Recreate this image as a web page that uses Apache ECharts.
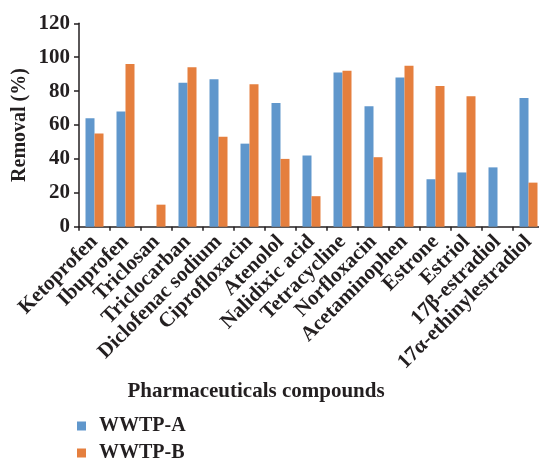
<!DOCTYPE html>
<html>
<head>
<meta charset="utf-8">
<script src="https://cdn.jsdelivr.net/npm/echarts@6/dist/echarts.min.js"></script>
<style>
html,body{margin:0;padding:0;overflow:hidden;background:#fff;}
#c{width:546px;height:460px;}
</style>
</head>
<body>
<div id="c"></div>
<script>
const categories = ["Ketoprofen","Ibuprofen","Triclosan","Triclocarban","Diclofenac sodium","Ciprofloxacin","Atenolol","Nalidixic acid","Tetracycline","Norfloxacin","Acetaminophen","Estrone","Estriol","17β-estradiol","17α-ethinylestradiol"];
const wwtpA = [64,68,0,85,87,49,73,42,91,71,88,28,32,35,76];
const wwtpB = [55,96,13,94,53,84,40,18,92,41,95,83,77,0,26];
const yTicks = {min:0,max:120,interval:20};

const font = "'Liberation Serif', 'DejaVu Serif', serif";
const txt = '#231f20';
const legendText = {fontFamily:font,fontWeight:'bold',fontSize:20,color:txt,padding:[0,0,0,8]};
const chart = echarts.init(document.getElementById('c'), null, {renderer:'canvas'});
chart.setOption({
  animation:false,
  textStyle:{fontFamily:font},
  title:{
    text:'Pharmaceuticals compounds',
    left:256, top:381, textAlign:'center', padding:0,
    textStyle:{fontFamily:font,fontWeight:'bold',fontSize:21,color:txt}
  },
  legend:[
    {left:77, top:416, padding:0, icon:'rect', itemWidth:9, itemHeight:9,
     textStyle:legendText, data:['WWTP-A']},
    {left:77, top:443, padding:0, icon:'rect', itemWidth:9, itemHeight:9,
     textStyle:legendText, data:['WWTP-B']}
  ],
  grid:{left:79,right:2,top:23.3,bottom:233.3,containLabel:false},
  xAxis:{
    type:'category', data:categories,
    axisLine:{lineStyle:{color:'#231f20',width:1.5}},
    axisTick:{show:true,length:4,inside:false,lineStyle:{color:'#231f20',width:1.5}},
    axisLabel:{rotate:45,interval:0,margin:12,fontFamily:font,fontWeight:'bold',fontSize:21,color:txt}
  },
  yAxis:{
    type:'value', min:yTicks.min, max:yTicks.max, interval:yTicks.interval,
    name:'Removal (%)', nameLocation:'middle', nameGap:49, nameRotate:90, nameMoveOverlap:false,
    nameTextStyle:{fontFamily:font,fontWeight:'bold',fontSize:20,color:txt},
    splitLine:{show:false},
    axisLine:{show:true,lineStyle:{color:'#231f20',width:1.5}},
    axisTick:{show:true,length:5,lineStyle:{color:'#231f20',width:1.5}},
    axisLabel:{margin:9,fontFamily:font,fontWeight:'bold',fontSize:21,color:txt}
  },
  series:[
    {name:'WWTP-A',type:'bar',data:wwtpA,barWidth:9,barGap:'0%',itemStyle:{color:'#6097cc'}},
    {name:'WWTP-B',type:'bar',data:wwtpB,barWidth:9,barGap:'0%',itemStyle:{color:'#e57f3e'}}
  ]
});
</script>
</body>
</html>
